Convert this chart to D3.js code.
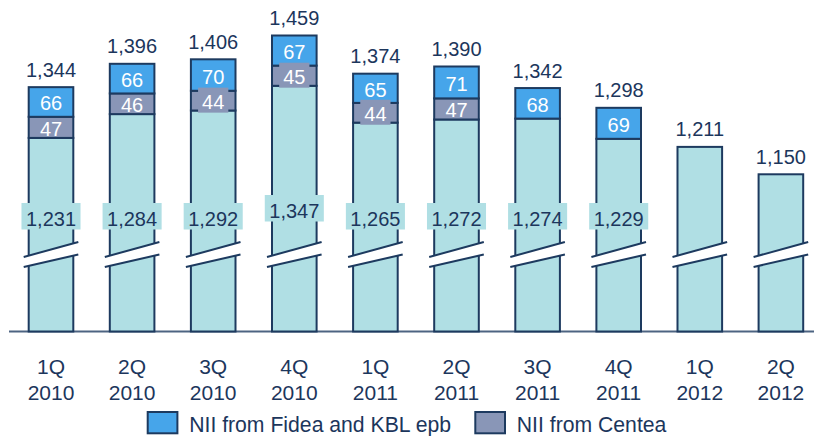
<!DOCTYPE html>
<html>
<head>
<meta charset="utf-8">
<script src="https://cdn.jsdelivr.net/npm/d3@7"></script>
<style>
  html, body { margin: 0; padding: 0; background: #fff; }
  svg { display: block; font-family: "Liberation Sans", Arial, sans-serif; }
</style>
</head>
<body>
<svg id="chart" width="814" height="436"></svg>
<script>
const categories = ["1Q 2010","2Q 2010","3Q 2010","4Q 2010","1Q 2011","2Q 2011","3Q 2011","4Q 2011","1Q 2012","2Q 2012"];
const baseNII   = [1231, 1284, 1292, 1347, 1265, 1272, 1274, 1229, 1211, 1150];
const centeaNII = [47, 46, 44, 45, 44, 47, null, null, null, null];
const fideaNII  = [66, 66, 70, 67, 65, 71, 68, 69, null, null];
const totals    = [1344, 1396, 1406, 1459, 1374, 1390, 1342, 1298, 1211, 1150];
const legendLabels = ["NII from Fidea and KBL epb", "NII from Centea"];

const C = {
  teal: "#b0dfe4", blue: "#46a5ea", grey: "#8996b7",
  stroke: "#1d3a5f", text: "#1c365c", axis: "#4d6482"
};

const svg = d3.select("#chart");
const fmt = d3.format(",");

const x = d3.scaleBand().domain(categories).range([10.45, 821.45])
  .paddingInner(0.45).paddingOuter(0.225);
const y = d3.scaleLinear().domain([800, 1459]).range([331.5, 35.5]);

const data = categories.map((c, i) => ({
  cat: c, base: baseNII[i], centea: centeaNII[i], fidea: fideaNII[i], total: totals[i]
}));

// axis line
svg.append("line").attr("x1", 9).attr("x2", 814).attr("y1", 331.5).attr("y2", 331.5)
  .attr("stroke", C.axis).attr("stroke-width", 2);

const g = svg.append("g").selectAll("g").data(data).join("g");

// base segment
g.append("rect")
  .attr("x", d => x(d.cat)).attr("width", x.bandwidth())
  .attr("y", d => y(d.base)).attr("height", d => y(800) - y(d.base))
  .attr("fill", C.teal).attr("stroke", C.stroke).attr("stroke-width", 2);

// centea segment
g.filter(d => d.centea != null).append("rect")
  .attr("x", d => x(d.cat)).attr("width", x.bandwidth())
  .attr("y", d => y(d.base + d.centea)).attr("height", d => y(d.base) - y(d.base + d.centea))
  .attr("fill", C.grey).attr("stroke", C.stroke).attr("stroke-width", 2);

// fidea segment
g.filter(d => d.fidea != null).append("rect")
  .attr("x", d => x(d.cat)).attr("width", x.bandwidth())
  .attr("y", d => y(d.base + (d.centea || 0) + d.fidea))
  .attr("height", d => y(d.base + (d.centea || 0)) - y(d.base + (d.centea || 0) + d.fidea))
  .attr("fill", C.blue).attr("stroke", C.stroke).attr("stroke-width", 2);

// axis break marks
g.each(function(d) {
  const x0 = x(d.cat) - 5, x1 = x(d.cat) + x.bandwidth() + 5;
  const sel = d3.select(this);
  sel.append("path")
    .attr("d", `M${x0},257 L${x1},242 L${x1},254.5 L${x0},267 Z`)
    .attr("fill", "#fff");
  sel.append("line").attr("x1", x0).attr("y1", 257).attr("x2", x1).attr("y2", 242)
    .attr("stroke", C.stroke).attr("stroke-width", 2);
  sel.append("line").attr("x1", x0).attr("y1", 267).attr("x2", x1).attr("y2", 254.5)
    .attr("stroke", C.stroke).attr("stroke-width", 2);
});

// base labels with teal box (the 4Q 2010 label sits a little higher in the original)
g.filter(d => d.centea != null || d.fidea != null).each(function(d) {
  const sel = d3.select(this);
  const cx = x(d.cat) + x.bandwidth() / 2;
  const by = d.cat === "4Q 2010" ? 217.5 : 225.5;
  const t = sel.append("text").attr("x", cx).attr("y", by)
    .attr("text-anchor", "middle").attr("font-size", 20).attr("fill", C.text)
    .text(fmt(d.base));
  const w = t.node().getComputedTextLength();
  sel.insert("rect", "text").attr("x", cx - w / 2 - 4.5).attr("width", w + 9)
    .attr("y", by - 22.5).attr("height", 26.5).attr("fill", C.teal);
});

// centea labels
g.filter(d => d.centea != null).each(function(d) {
  const sel = d3.select(this);
  const cx = x(d.cat) + x.bandwidth() / 2;
  const cy = (y(d.base) + y(d.base + d.centea)) / 2;
  const segH = y(d.base) - y(d.base + d.centea);
  const t = sel.append("text").attr("x", cx).attr("y", cy + 8.5)
    .attr("text-anchor", "middle").attr("font-size", 20).attr("fill", "#fff")
    .text(fmt(d.centea));
  if (segH < 20.4) {
    const w = t.node().getComputedTextLength();
    sel.insert("rect", function() { return t.node(); })
      .attr("x", cx - w / 2 - 4).attr("width", w + 8)
      .attr("y", cy + 8.5 - 21.5).attr("height", 25).attr("fill", C.grey);
  }
});

// fidea labels
g.filter(d => d.fidea != null).append("text")
  .attr("x", d => x(d.cat) + x.bandwidth() / 2)
  .attr("y", d => (y(d.base + (d.centea || 0)) + y(d.base + (d.centea || 0) + d.fidea)) / 2 + 8.5)
  .attr("text-anchor", "middle").attr("font-size", 20).attr("fill", "#fff")
  .text(d => fmt(d.fidea));

// totals
g.append("text")
  .attr("x", d => x(d.cat) + x.bandwidth() / 2)
  .attr("y", d => y(d.total) - 10.5)
  .attr("text-anchor", "middle").attr("font-size", 20).attr("fill", C.text)
  .text(d => fmt(d.total));

// x axis labels
const xl = svg.append("g").selectAll("text").data(categories).join("text")
  .attr("x", d => x(d) + x.bandwidth() / 2)
  .attr("text-anchor", "middle").attr("font-size", 21).attr("fill", C.text);
xl.append("tspan").attr("x", d => x(d) + x.bandwidth() / 2).attr("y", 373.5).text(d => d.split(" ")[0]);
xl.append("tspan").attr("x", d => x(d) + x.bandwidth() / 2).attr("y", 399.5).text(d => d.split(" ")[1]);

// legend
const legendItems = [
  { label: legendLabels[0], color: C.blue, x: 147.7 },
  { label: legendLabels[1], color: C.grey, x: 475.3 }
];
const lg = svg.append("g").selectAll("g").data(legendItems).join("g");
lg.append("rect").attr("x", d => d.x).attr("y", 412).attr("width", 29.7).attr("height", 21.3)
  .attr("fill", d => d.color).attr("stroke", C.stroke).attr("stroke-width", 2);
lg.append("text").attr("x", d => d.x + 41.5).attr("y", 431.5)
  .attr("font-size", 21.2).attr("fill", C.text).text(d => d.label);
</script>
</body>
</html>
